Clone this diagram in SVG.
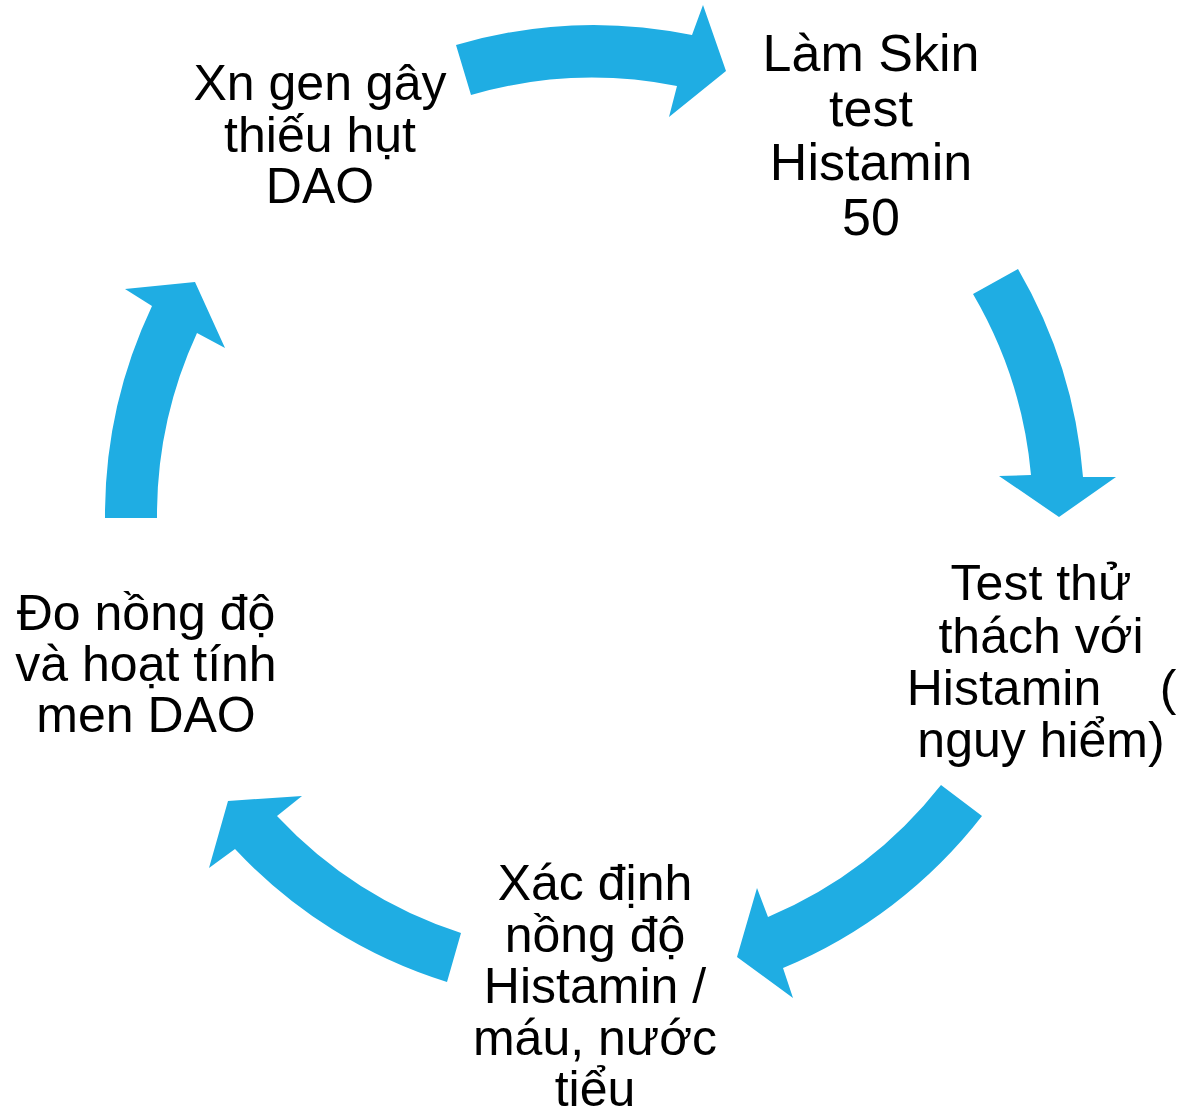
<svg xmlns="http://www.w3.org/2000/svg" width="1178" height="1109" viewBox="0 0 1178 1109">
<style>
.arrow{fill:#1FADE3;stroke:none}
.lbl{font-family:"Liberation Sans",Arial,sans-serif;font-size:50px;fill:#000;text-anchor:middle}
.big{font-size:52px}
</style>
<rect width="1178" height="1109" fill="#fff"/>
<g id="connectors">
<path class="arrow" d="M456,45 A489,489 0 0 1 692,35 L703,5 L726,71 L669,117 L677,86 A436,436 0 0 0 471,95 Z"/>
<path class="arrow" d="M1018,269 A489,489 0 0 1 1083,477 L1116,477 L1059,517 L999,476 L1031,475 A436,436 0 0 0 973,294 Z"/>
<path class="arrow" d="M982,816 A489,489 0 0 1 783,968 L793,998 L737,957 L757,888 L768,917 A436,436 0 0 0 941,785 Z"/>
<path class="arrow" d="M447,982 A489,489 0 0 1 235,849 L209,868 L228,801 L302,796 L277,816 A436,436 0 0 0 461,933 Z"/>
<path class="arrow" d="M105,518 A489,489 0 0 1 152,306 L125,289 L195,282 L225,348 L197,333 A436,436 0 0 0 157,518 Z"/>
</g>
<g id="node1">
<text class="lbl" x="320" y="100">Xn gen gây</text>
<text class="lbl" x="320" y="151.5">thiếu hụt</text>
<text class="lbl" x="320" y="203">DAO</text>
</g>
<g id="node2">
<text class="lbl big" x="871" y="71">Làm Skin</text>
<text class="lbl big" x="871" y="126">test</text>
<text class="lbl big" x="871" y="180">Histamin</text>
<text class="lbl big" x="871" y="235">50</text>
</g>
<g id="node3">
<text class="lbl" x="1041" y="600">Test thử</text>
<text class="lbl" x="1041" y="653">thách với</text>
<text class="lbl" y="705"><tspan x="1004">Histamin</tspan><tspan x="1168">(</tspan></text>
<text class="lbl" x="1041" y="757">nguy hiểm)</text>
</g>
<g id="node4">
<text class="lbl" x="595" y="900">Xác định</text>
<text class="lbl" x="595" y="951.5">nồng độ</text>
<text class="lbl" x="595" y="1003">Histamin /</text>
<text class="lbl" x="595" y="1055">máu, nước</text>
<text class="lbl" x="595" y="1106">tiểu</text>
</g>
<g id="node5">
<text class="lbl" x="146" y="630">Đo nồng độ</text>
<text class="lbl" x="146" y="681">và hoạt tính</text>
<text class="lbl" x="146" y="732">men DAO</text>
</g>
</svg>
